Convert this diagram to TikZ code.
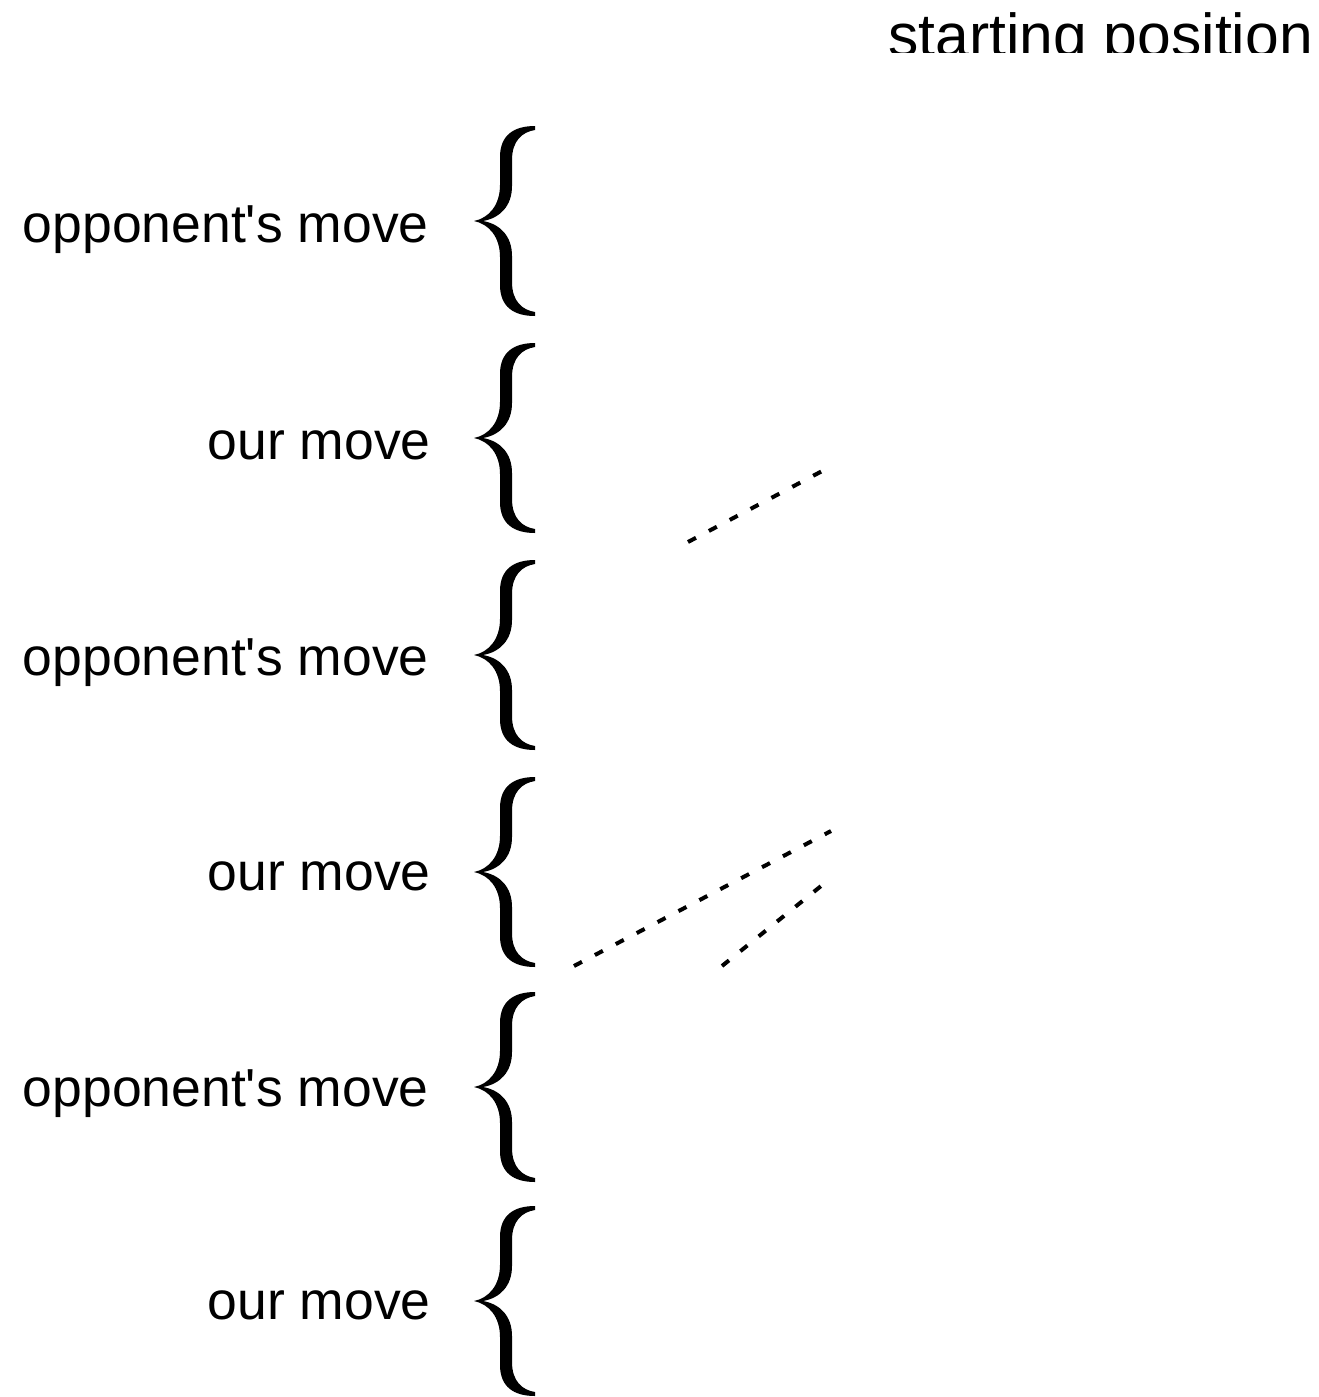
\documentclass[tikz,border=0pt]{standalone}
\usepackage{fontspec}
\setmainfont{Liberation Sans}
\begin{document}
\begin{tikzpicture}[x=0.5pt,y=-0.5pt,
  lbl/.style={inner sep=0pt,anchor=base east,font=\fontsize{26.75}{32}\selectfont},
  dashline/.style={line width=2pt,dash pattern=on 4.5pt off 7.3pt},
  curly/.pic={
    \fill[black] (61,-95) .. controls (40,-95) and (26,-86) .. (26,-64)
      -- (26,-36) .. controls (26,-16) and (15,-3) .. (0,0)
      .. controls (15,3) and (26,16) .. (26,36)
      -- (26,64) .. controls (26,86) and (40,95) .. (61,95)
      -- (61,91) .. controls (48,89) and (38,80) .. (38,61)
      -- (38,35) .. controls (38,15) and (26,3) .. (9,0)
      .. controls (26,-3) and (38,-15) .. (38,-35)
      -- (38,-61) .. controls (38,-80) and (48,-89) .. (61,-91) -- cycle;
  }]
\useasboundingbox (0,0) rectangle (1318,1397);
% starting position (clipped at bottom as in the reference)
\begin{scope}
  \clip (0,0) rectangle (1318,52);
  \node[inner sep=0pt,anchor=base west,font=\fontsize{30.3}{36}\selectfont] (start) at (888,56) {starting position};
\end{scope}
% rows
\node[lbl] (l1) at (429,242) {opponent\textquotesingle s move};
\node[lbl] (l2) at (431,459) {our move};
\node[lbl] (l3) at (429,675) {opponent\textquotesingle s move};
\node[lbl] (l4) at (431,890) {our move};
\node[lbl] (l5) at (429,1106) {opponent\textquotesingle s move};
\node[lbl] (l6) at (431,1319) {our move};
\pic at (474,221) {curly};
\pic at (474,438) {curly};
\pic at (474,655) {curly};
\pic at (474,872) {curly};
\pic at (474,1087) {curly};
\pic at (474,1301) {curly};
% dashed lines
\coordinate (a1) at (688,542);
\coordinate (a2) at (826,469);
\coordinate (b1) at (574,966);
\coordinate (b2) at (831,831);
\coordinate (c1) at (722,966);
\coordinate (c2) at (826,882);
\draw[dashline] (a1) -- (a2);
\draw[dashline] (b1) -- (b2);
\draw[dashline] (c1) -- (c2);
\end{tikzpicture}
\end{document}
